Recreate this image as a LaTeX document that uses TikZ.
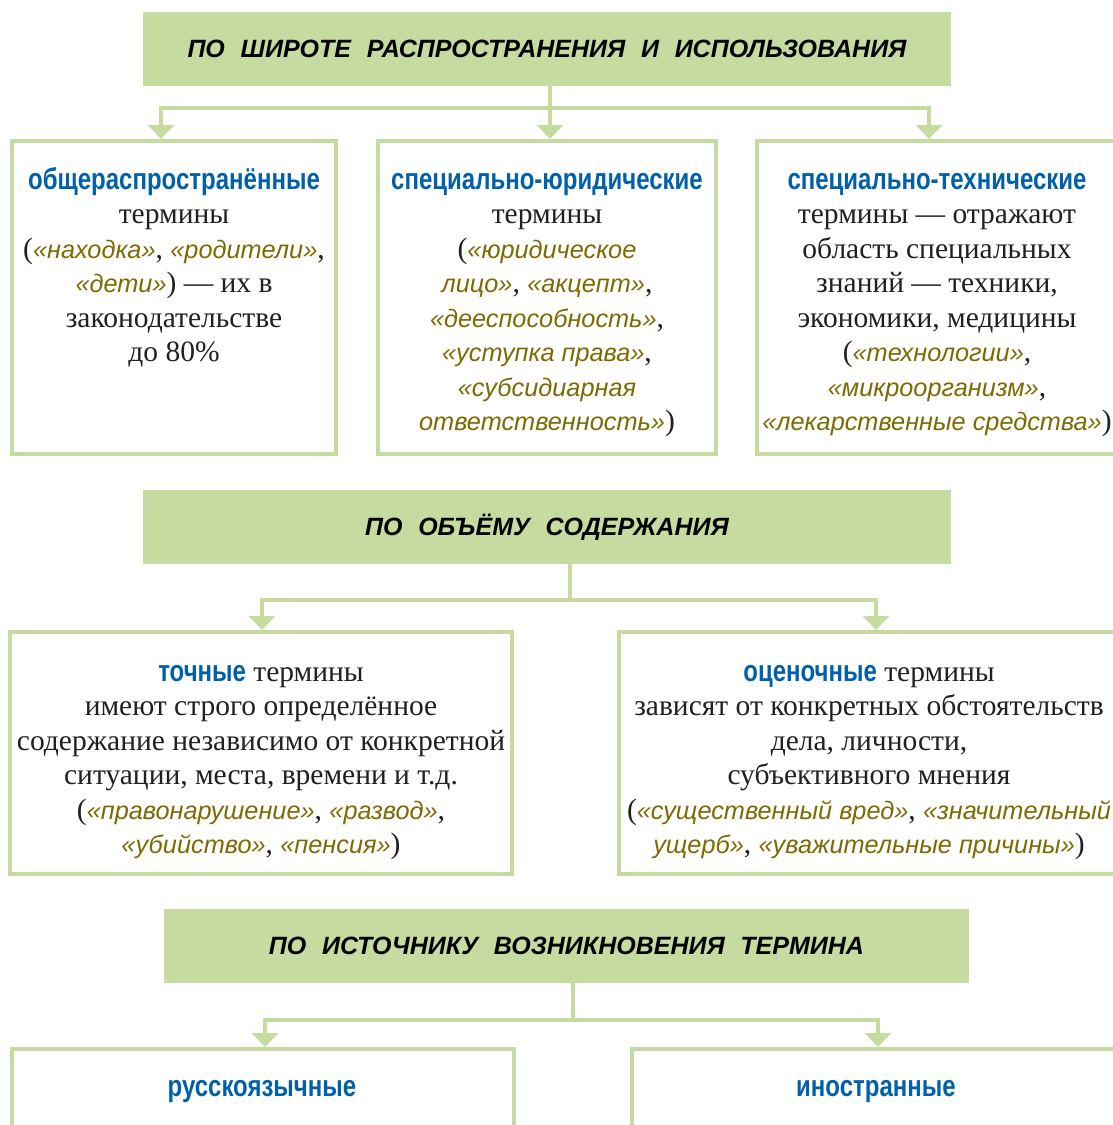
\documentclass[tikz,border=0pt]{standalone}
\usepackage{fontspec}
\setmainfont{Liberation Serif}
\setsansfont{Liberation Sans}
\newfontfamily\condfont[FakeStretch=0.8]{Liberation Sans}
\newfontfamily\hdfont{Liberation Sans}
\usetikzlibrary{arrows.meta}
\definecolor{grn}{RGB}{197,219,160}
\definecolor{tblue}{RGB}{0,97,170}
\definecolor{olv}{RGB}{125,106,0}
\definecolor{ink}{RGB}{35,31,32}
\newcommand\ttl[1]{{\condfont\bfseries\fontsize{30}{34.5}\selectfont\color{tblue}#1}}
\newcommand\exm[1]{{\sffamily\itshape\fontsize{25.3}{34.5}\selectfont\color{olv}#1}}
\newcommand\wg{\hspace{0.35em}}
\newcommand\tstrut{\rule{0pt}{28pt}}
\begin{document}
\begin{tikzpicture}[x=1pt,y=1pt,
  hdr/.style={fill=grn, draw=none, minimum height=74pt, inner sep=0pt, text=black,
    font=\hdfont\bfseries\itshape\fontsize{25}{28}\selectfont},
  box/.style={draw=grn, line width=4pt, anchor=north west, inner sep=0pt},
  txt/.style={align=center, anchor=north, inner sep=0pt, text=ink,
    font=\fontsize{29.5}{34.5}\selectfont},
  link/.style={draw=grn, line width=4pt},
  arr/.style={link, -{Triangle[width=26pt,length=14pt]}}]
\useasboundingbox (0,0) rectangle (1113,-1125);
\clip (0,0) rectangle (1113,-1125);
\fill[white] (0,0) rectangle (1113,-1125);

% ---- headers
\node[hdr, minimum width=808pt] (h1) at (547,-49)
  {ПО\wg{} ШИРОТЕ\wg{} РАСПРОСТРАНЕНИЯ\wg{} И\wg{} ИСПОЛЬЗОВАНИЯ};
\node[hdr, minimum width=808pt] (h2) at (547,-527)
  {ПО\wg{} ОБЪЁМУ\wg{} СОДЕРЖАНИЯ};
\node[hdr, minimum width=805pt] (h3) at (566.5,-946)
  {ПО\wg{} ИСТОЧНИКУ\wg{} ВОЗНИКНОВЕНИЯ\wg{} ТЕРМИНА};

% ---- boxes
\node[box, minimum width=324pt, minimum height=313pt] (b1) at (10,-139) {};
\node[box, minimum width=338pt, minimum height=313pt] (b2) at (376,-139) {};
\node[box, minimum width=370pt, minimum height=313pt] (b3) at (755,-139) {};
\node[box, minimum width=502pt, minimum height=242pt] (b4) at (8,-630) {};
\node[box, minimum width=504pt, minimum height=242pt] (b5) at (617,-630) {};
\node[box, minimum width=502pt, minimum height=100pt] (b6) at (10,-1047) {};
\node[box, minimum width=500pt, minimum height=100pt] (b7) at (630,-1047) {};

% ---- texts
\node[txt] (t1) at (174,-161) {\tstrut\ttl{общераспространённые}\\термины\\(\exm{«находка»}, \exm{«родители»},\\\exm{«дети»}) — их в\\законодательстве\\до 80\%};
\node[txt] (t2) at (547,-161) {\tstrut\ttl{специально-юридические}\\термины\\(\exm{«юридическое}\\\exm{лицо»}, \exm{«акцепт»},\\\exm{«дееспособность»},\\\exm{«уступка права»},\\\exm{«субсидиарная}\\\exm{ответственность»})};
\node[txt] (t3) at (937,-161) {\tstrut\ttl{специально-технические}\\термины — отражают\\область специальных\\знаний — техники,\\экономики, медицины\\(\exm{«технологии»},\\\exm{«микроорганизм»},\\\exm{«лекарственные средства»})};
\node[txt] (t4) at (261,-653) {\tstrut\ttl{точные} термины\\имеют строго определённое\\содержание независимо от конкретной\\ситуации, места, времени и т.д.\\(\exm{«правонарушение»}, \exm{«развод»},\\\exm{«убийство»}, \exm{«пенсия»})};
\node[txt] (t5) at (869,-653) {\tstrut\ttl{оценочные} термины\\зависят от конкретных обстоятельств\\дела, личности,\\субъективного мнения\\(\exm{«существенный вред»}, \exm{«значительный}\\\exm{ущерб»}, \exm{«уважительные причины»})};
\node[txt] (t6) at (262,-1068) {\tstrut\ttl{русскоязычные}};
\node[txt] (t7) at (876,-1068) {\tstrut\ttl{иностранные}};

% ---- connectors
\coordinate (j1) at (550,-108);
\draw[link] (h1.south -| j1) -- (j1);
\draw[arr] (j1) -| (b1.north -| 161,0);
\draw[arr] (j1) -- (b2.north -| j1);
\draw[arr] (j1) -| (b3.north -| 929,0);

\coordinate (j2) at (570,-600);
\draw[link] (h2.south -| j2) -- (j2);
\draw[arr] (j2) -| (b4.north -| 262,0);
\draw[arr] (j2) -| (b5.north -| 876,0);

\coordinate (j3) at (573,-1020);
\draw[link] (h3.south -| j3) -- (j3);
\draw[arr] (j3) -| (b6.north -| 265,0);
\draw[arr] (j3) -| (b7.north -| 878,0);
\end{tikzpicture}
\end{document}
